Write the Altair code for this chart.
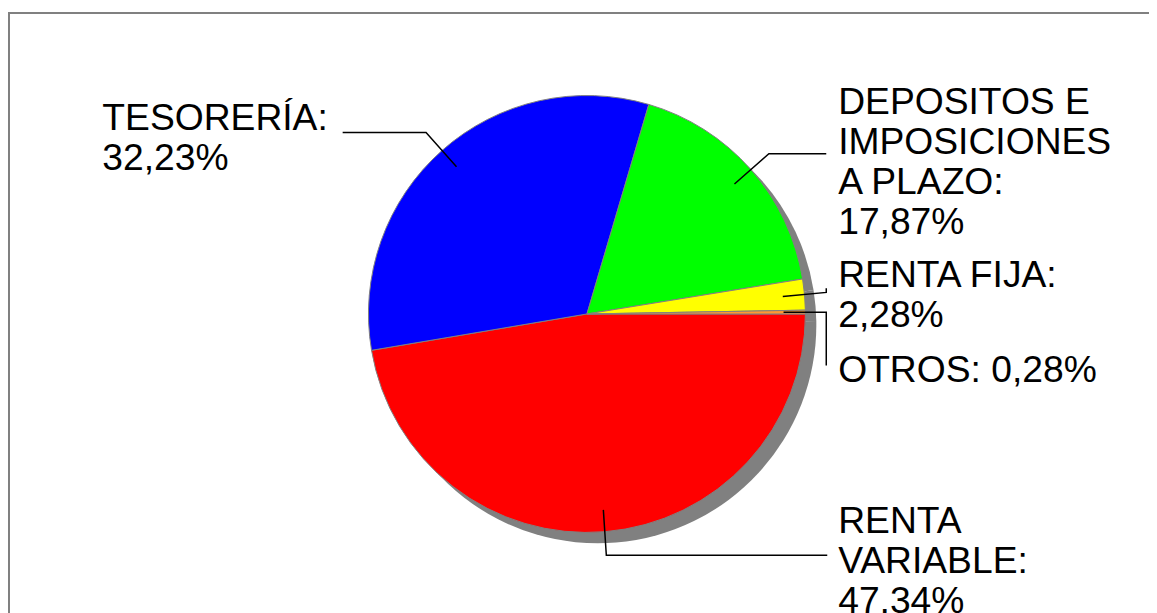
import math
import altair as alt
import pandas as pd

# ---- data ----
categories = ["RENTA VARIABLE", "TESORERÍA", "DEPOSITOS E IMPOSICIONES A PLAZO", "RENTA FIJA", "OTROS"]
values = [47.34, 32.23, 17.87, 2.28, 0.28]
label_heads = ["RENTA\nVARIABLE:", "TESORERÍA:", "DEPOSITOS E\nIMPOSICIONES\nA PLAZO:", "RENTA FIJA:", "OTROS:"]
slice_colors = ["#FF0000", "#0000FF", "#00FF00", "#FFFF00", "#FF9933"]

# ---- layout (pixels inside the chart) ----
W, H = 1149, 605
CX, CY, R = 583, 306, 220
SHADOW_DX, SHADOW_DY = 11, 11
FONT = "Liberation Sans"
FONT_SIZE = 37.5

total = sum(values)
pie_df = pd.DataFrame({
    "cat": categories,
    "value": values,
    "order": list(range(len(categories))),
})

# mid angles (clockwise from 3 o'clock, screen coords)
mids = {}
acc = 0.0
for c, v in zip(categories, values):
    mids[c] = math.radians((acc + v / 2) / total * 360.0)
    acc += v


def polar(c, r):
    a = mids[c]
    return CX + r * math.cos(a), CY + r * math.sin(a)


# leader lines: anchor inside slice, elbow, then toward label
leader_rows = []


def add_path(cat, pts):
    for i, (x, y) in enumerate(pts):
        leader_rows.append({"cat": cat, "i": i, "x": x, "y": y})


ax, ay = polar("TESORERÍA", 0.9 * R)
ex, ey = polar("TESORERÍA", 1.11 * R)
add_path("TESORERÍA", [(ax, ay), (ex, ey), (337, ey)])

ax, ay = polar("DEPOSITOS E IMPOSICIONES A PLAZO", 0.9 * R)
ex, ey = polar("DEPOSITOS E IMPOSICIONES A PLAZO", 1.11 * R)
add_path("DEPOSITOS E IMPOSICIONES A PLAZO", [(ax, ay), (ex, ey), (824, ey)])

ax, ay = polar("RENTA FIJA", 0.9 * R)
ex, ey = polar("RENTA FIJA", 1.11 * R)
add_path("RENTA FIJA", [(ax, ay), (824, ey), (824, 280)])

ax, ay = polar("OTROS", 0.9 * R)
add_path("OTROS", [(ax, ay), (824, ay), (824, 358)])

ax, ay = polar("RENTA VARIABLE", 0.9 * R)
add_path("RENTA VARIABLE", [(ax, ay), (ax + 3, 549), (825, 549)])

leader_df = pd.DataFrame(leader_rows)

# labels
label_pos = {
    "TESORERÍA": (95, 121),
    "DEPOSITOS E IMPOSICIONES A PLAZO": (836, 105),
    "RENTA FIJA": (836, 279),
    "OTROS": (836, 374),
    "RENTA VARIABLE": (836, 527),
}
lab_rows = []
for c, v, head in zip(categories, values, label_heads):
    pct = f"{v:.2f}".replace(".", ",") + "%"
    sep = " " if c == "OTROS" else "\n"
    x, y = label_pos[c]
    lab_rows.append({"cat": c, "text": head + sep + pct, "x": x, "y": y})
lab_df = pd.DataFrame(lab_rows)

theta_scale = alt.Scale(range=[math.pi / 2, math.pi / 2 + 2 * math.pi])
xs = alt.Scale(domain=[0, W], nice=False, zero=False)
ys = alt.Scale(domain=[0, H], nice=False, zero=False, reverse=True)

frame = alt.Chart(pd.DataFrame({"k": [0]})).mark_rect(
    fillOpacity=0, stroke="#808080", strokeWidth=2
).encode(x=alt.value(1), y=alt.value(3), x2=alt.value(1300), y2=alt.value(800))

shadow = alt.Chart(pie_df).mark_arc(radius=R, color="#808080").encode(
    theta=alt.Theta("value:Q", stack=True, scale=theta_scale),
    order=alt.Order("order:Q"),
    x=alt.value(CX + SHADOW_DX),
    y=alt.value(CY + SHADOW_DY),
)

pie = alt.Chart(pie_df).mark_arc(radius=R, stroke="#808080", strokeWidth=1).encode(
    theta=alt.Theta("value:Q", stack=True, scale=theta_scale),
    color=alt.Color("cat:N", scale=alt.Scale(domain=categories, range=slice_colors), legend=None),
    order=alt.Order("order:Q"),
    x=alt.value(CX),
    y=alt.value(CY),
)

leaders = alt.Chart(leader_df).mark_line(color="black", strokeWidth=1.5).encode(
    x=alt.X("x:Q", scale=xs, axis=None),
    y=alt.Y("y:Q", scale=ys, axis=None),
    detail="cat:N",
    order="i:Q",
)

labels = alt.Chart(lab_df).mark_text(
    font=FONT, fontSize=FONT_SIZE, lineHeight=40, align="left", baseline="alphabetic",
    color="black", lineBreak="\n",
).encode(
    x=alt.X("x:Q", scale=xs, axis=None),
    y=alt.Y("y:Q", scale=ys, axis=None),
    text="text:N",
)

chart = alt.layer(frame, shadow, pie, leaders, labels).properties(
    width=W, height=H, autosize=alt.AutoSizeParams(type="none"), padding=0,
    background="white",
).configure_view(stroke=None)

chart.save("out.html", embed_options={"renderer": "svg", "actions": False})
